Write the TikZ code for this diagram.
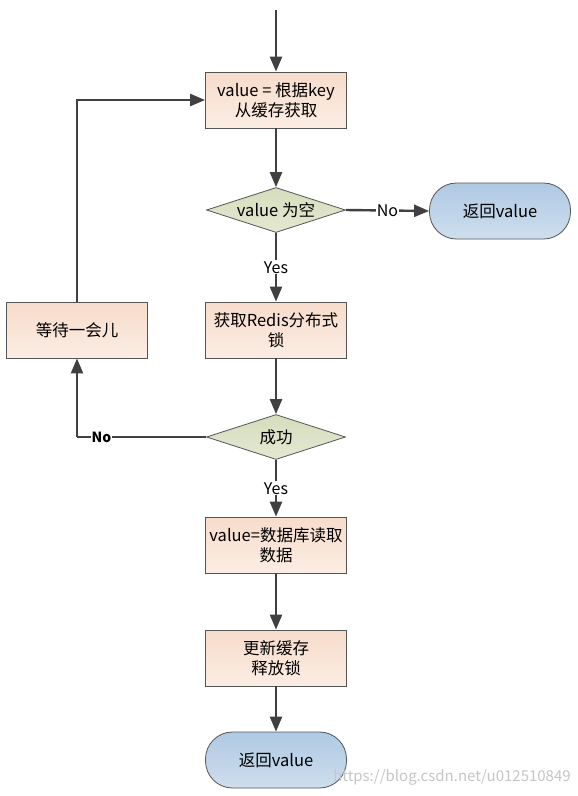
\documentclass[tikz,border=0pt]{standalone}
\usepackage{fontspec}
\setmainfont{Noto Sans CJK SC}
\usetikzlibrary{arrows.meta,shapes.geometric}
\definecolor{linec}{HTML}{404040}
\definecolor{edgec}{HTML}{555555}
\definecolor{boxtop}{HTML}{F7DCCB}
\definecolor{boxbot}{HTML}{FBEDE4}
\definecolor{dtop}{HTML}{D5DDBD}
\definecolor{dbot}{HTML}{E4E8D2}
\definecolor{ttop}{HTML}{AFC9E3}
\definecolor{tbot}{HTML}{CEDEEE}
\begin{document}
\begin{tikzpicture}[x=1pt,y=-1pt,
  every node/.style={font=\fontsize{16.5}{20}\selectfont, text=black},
  arr/.style={draw=linec, line width=2.4pt, -{Triangle[length=15pt,width=12pt]}},
  plain/.style={draw=linec, line width=2.4pt},
  procbox/.style={draw=edgec, line width=0.8pt, rectangle, minimum width=141pt, minimum height=56pt,
    align=center, top color=boxtop, bottom color=boxbot, inner sep=2pt},
  decide/.style={draw=edgec, line width=0.8pt, diamond, aspect=3.1, minimum width=139pt, minimum height=45pt,
    inner sep=0pt, top color=dtop, bottom color=dbot},
  term/.style={draw=edgec, line width=0.8pt, rectangle, rounded corners=27pt, minimum width=141pt,
    minimum height=56pt, top color=ttop, bottom color=tbot},
  lbl/.style={fill=white, inner sep=1pt, font=\fontsize{16}{18}\selectfont}
]
\useasboundingbox (0,0) rectangle (578,796);
\fill[white] (0,0) rectangle (578,796);

\coordinate (start) at (276,10);
\node[procbox] (b1) at (276,100) {value = 根据key\\从缓存获取};
\node[decide] (d1) at (276,210) {value 为空};
\node[term] (t1) at (500,211) {返回value};
\node[procbox] (b2) at (276,330) {获取Redis分布式\\锁};
\node[procbox] (w) at (77,330) {等待一会儿};
\node[decide] (d2) at (276,437) {成功};
\node[procbox] (b3) at (276,545) {value=数据库读取\\数据};
\node[procbox] (b4) at (276,658) {更新缓存\\释放锁};
\node[term] (t2) at (276,760) {返回value};
\coordinate (corner) at (77,437);

\draw[arr] (start) -- (b1);
\draw[arr] (b1) -- (d1);
\draw[arr] (d1.east) -- node[lbl] {No} (t1.west);
\draw[arr] (d1.south) -- node[lbl] {Yes} (b2.north);
\draw[arr] (b2) -- (d2);
\draw[plain] (d2.west) -- node[lbl, pos=0.81, font=\bfseries\fontsize{14}{16}\selectfont] {No} (corner);
\draw[arr] (corner) -- (w.south);
\draw[arr] (w.north) |- (b1.west);
\draw[arr] (d2.south) -- node[lbl] {Yes} (b3.north);
\draw[arr] (b3) -- (b4);
\draw[arr] (b4) -- (t2);

\node[font=\fontsize{15}{18}\selectfont, text=gray!45] (wm) at (452,777) {https://blog.csdn.net/u012510849};
\end{tikzpicture}
\end{document}
